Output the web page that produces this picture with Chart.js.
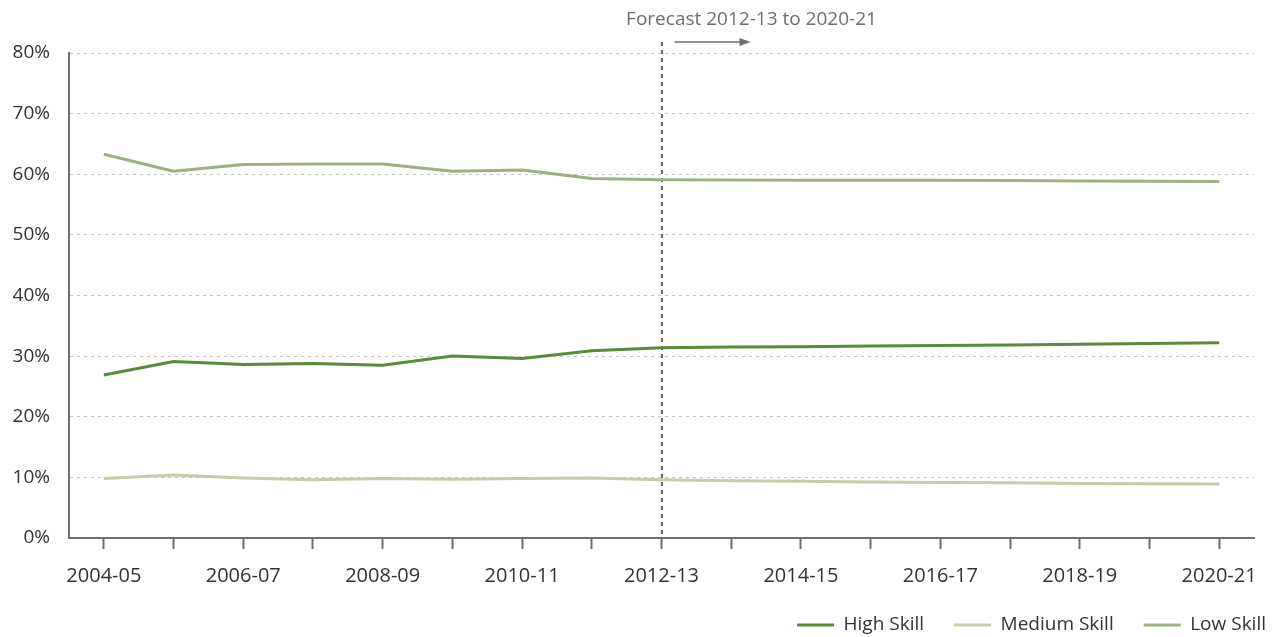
<!DOCTYPE html>
<html>
<head>
<meta charset="utf-8">
<script src="https://cdn.jsdelivr.net/npm/chart.js@4/dist/chart.umd.min.js"></script>
<style>
  html, body { margin: 0; padding: 0; background: #ffffff; overflow: hidden; }
  #wrap { width: 1279px; height: 637px; }
</style>
</head>
<body>
<div id="wrap"><canvas id="c" width="1279" height="637"></canvas></div>
<script>
const categories = ["2004-05","2005-06","2006-07","2007-08","2008-09","2009-10","2010-11","2011-12","2012-13","2013-14","2014-15","2015-16","2016-17","2017-18","2018-19","2019-20","2020-21"];
const highSkill   = [26.9, 29.1, 28.6, 28.8, 28.5, 30.0, 29.6, 30.9, 31.4, 31.5, 31.55, 31.65, 31.75, 31.85, 31.95, 32.1, 32.2];
const mediumSkill = [9.8, 10.4, 9.9, 9.6, 9.8, 9.7, 9.8, 9.9, 9.6, 9.45, 9.35, 9.25, 9.15, 9.1, 9.0, 8.95, 8.9];
const lowSkill    = [63.3, 60.5, 61.6, 61.7, 61.7, 60.5, 60.7, 59.3, 59.1, 59.05, 59.0, 59.0, 59.0, 58.95, 58.9, 58.85, 58.8];
const seriesNames = ["High Skill", "Medium Skill", "Low Skill"];
const yTicks = [0, 10, 20, 30, 40, 50, 60, 70, 80];
const forecastStart = "2012-13";
const forecastText = "Forecast 2012-13 to 2020-21";

const FONT = "'Open Sans', 'Noto Sans', sans-serif";
const FS = 19;
const LEGEND_PAD = 30;

const forecastPlugin = {
  id: 'forecast',
  beforeDatasetsDraw(chart) {
    const ctx = chart.ctx;
    const x = chart.scales.x.getPixelForValue(categories.indexOf(forecastStart));
    const bottom = chart.chartArea.bottom;
    ctx.save();
    ctx.strokeStyle = '#666666';
    ctx.lineWidth = 2;
    ctx.setLineDash([4, 4]);
    ctx.beginPath();
    ctx.moveTo(Math.round(x), 42);
    ctx.lineTo(Math.round(x), bottom);
    ctx.stroke();
    ctx.restore();
  },
  afterDraw(chart) {
    const ctx = chart.ctx;
    const x = chart.scales.x.getPixelForValue(categories.indexOf(forecastStart));
    ctx.save();
    ctx.fillStyle = '#6e6e6e';
    ctx.font = FS + "px " + FONT;
    ctx.textAlign = 'center';
    ctx.textBaseline = 'middle';
    ctx.fillText(forecastText, x + 90, 20);
    ctx.strokeStyle = '#6e6e6e';
    ctx.lineWidth = 1.5;
    ctx.beginPath();
    ctx.moveTo(x + 13, 42);
    ctx.lineTo(x + 82, 42);
    ctx.stroke();
    ctx.beginPath();
    ctx.moveTo(x + 89, 42);
    ctx.lineTo(x + 78, 38);
    ctx.lineTo(x + 78, 46);
    ctx.closePath();
    ctx.fill();
    ctx.restore();
  }
};

const legendPlace = {
  id: 'legendPlace',
  beforeLayout(chart) {
    const l = chart.legend;
    if (l && !l.__patched) {
      const orig = l.fit;
      l.fit = function () { orig.call(this); this.height = 39; };
      l.__patched = true;
    }
  },
  afterLayout(chart) {
    const l = chart.legend;
    if (!l) return;
    l.top = 625 - FS / 2 - LEGEND_PAD;
    l.bottom = chart.height;
    l.height = l.bottom - l.top;
    l.left += 42;
    l.right += 42;
  }
};

const colors = ['#5b8a3a', '#c6cdaa', '#9db083'];
const values = [highSkill, mediumSkill, lowSkill];

new Chart(document.getElementById('c'), {
  type: 'line',
  data: {
    labels: categories,
    datasets: seriesNames.map((n, i) => ({
      label: n,
      data: values[i],
      borderColor: colors[i],
      backgroundColor: colors[i],
      borderWidth: 3,
      pointRadius: 0,
      pointHoverRadius: 0,
      tension: 0,
      fill: false
    }))
  },
  options: {
    responsive: false,
    animation: false,
    events: [],
    layout: { padding: { top: 53, right: 25, left: 0, bottom: 0 } },
    plugins: {
      tooltip: { enabled: false },
      legend: {
        position: 'bottom',
        align: 'end',
        labels: {
          boxWidth: 37,
          boxHeight: 3,
          padding: LEGEND_PAD,
          color: '#333333',
          font: { family: FONT, size: FS },
          generateLabels(chart) {
            const items = Chart.defaults.plugins.legend.labels.generateLabels(chart);
            items.forEach(it => { it.lineWidth = 0; it.fillStyle = it.strokeStyle; });
            return items;
          }
        }
      }
    },
    scales: {
      x: {
        type: 'category',
        offset: true,
        grid: {
          offset: false,
          drawOnChartArea: false,
          drawTicks: true,
          tickLength: 11,
          tickWidth: 2,
          tickColor: '#707070'
        },
        border: { display: true, color: '#707070', width: 2 },
        ticks: {
          autoSkip: false,
          maxRotation: 0,
          padding: 15,
          color: '#333333',
          font: { family: FONT, size: 20 },
          callback: (v, i) => (i % 2 === 0 ? categories[i] : '')
        },
        afterFit(s) { s.height = 60; }
      },
      y: {
        min: 0,
        max: 80,
        afterBuildTicks(s) { s.ticks = yTicks.map(v => ({ value: v })); },
        grid: {
          drawTicks: false,
          lineWidth: 1,
          color: (c) => (c.tick && c.tick.value === 0 ? 'rgba(0,0,0,0)' : '#c4c4c4')
        },
        border: { display: true, color: '#707070', width: 2, dash: [3, 4] },
        ticks: {
          padding: 19,
          color: '#333333',
          font: { family: FONT, size: FS },
          callback: v => v + '%'
        },
        afterFit(s) { s.width = 69; }
      }
    }
  },
  plugins: [forecastPlugin, legendPlace]
});
</script>
</body>
</html>
